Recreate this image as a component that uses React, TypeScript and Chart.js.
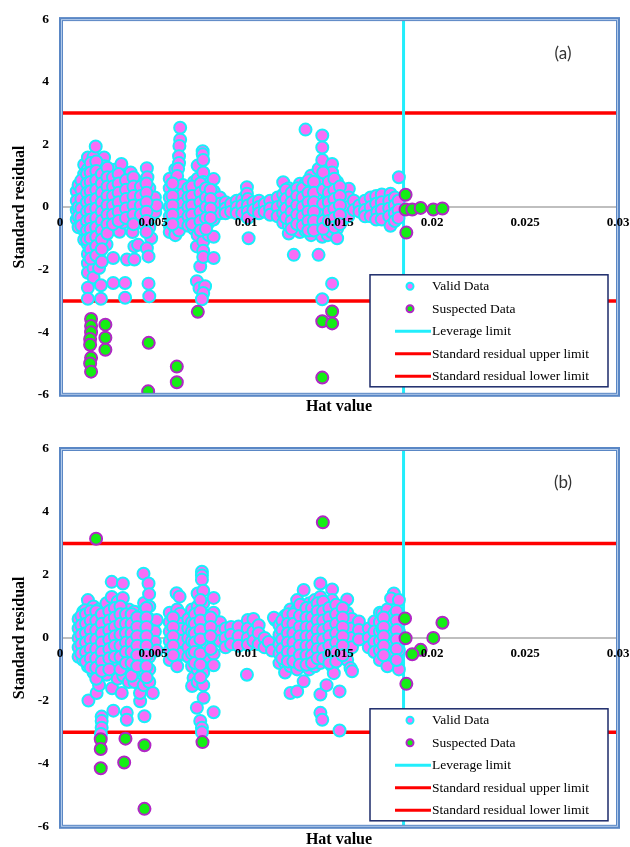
import React, { useEffect, useRef } from 'react';
import { Chart, registerables } from 'chart.js';

Chart.register(...registerables);

type Pt = [number, number];

const xTicks = [0, 0.005, 0.01, 0.015, 0.02, 0.025, 0.03];
const yTicks = [-6, -4, -2, 0, 2, 4, 6];
const upperLimit = 3;
const lowerLimit = -3;
const leverageLimit = 0.01847;
const legendLabels = ['Valid Data', 'Suspected Data', 'Leverage limit', 'Standard residual upper limit', 'Standard residual lower limit'];

// ---------- Panel (a) ----------
// dense inner part of the clusters
const validCoreA: Pt[] = [
  [0.00115,0.85],[0.00115,0.55],[0.00115,0.25],[0.00115,-0.05],[0.00115,-0.35],[0.00115,-0.6],
  [0.00145,1.05],[0.00145,0.75],[0.00145,0.45],[0.00145,0.15],[0.00145,-0.15],[0.00145,-0.45],[0.00145,-0.75],[0.00145,-1.05],
  [0.00165,1.4],[0.00165,1.1],[0.00165,0.8],[0.00165,0.5],[0.00165,0.2],[0.00165,-0.1],[0.00165,-0.4],[0.00165,-0.7],[0.00165,-1.0],[0.00165,-1.35],[0.00165,-1.65],
  [0.00195,1.45],[0.00195,1.15],[0.00195,0.85],[0.00195,0.55],[0.00195,0.25],[0.00195,-0.05],[0.00195,-0.35],[0.00195,-0.65],[0.00195,-0.95],[0.00195,-1.25],[0.00195,-1.55],
  [0.00225,1.05],[0.00225,0.75],[0.00225,0.45],[0.00225,0.15],[0.00225,-0.15],[0.00225,-0.45],[0.00225,-0.75],[0.00225,-1.05],[0.00225,-1.35],[0.00225,-1.75],
  [0.00255,1.25],[0.00255,0.95],[0.00255,0.65],[0.00255,0.35],[0.00255,0.05],[0.00255,-0.25],[0.00255,-0.55],[0.00255,-0.85],
  [0.00285,0.95],[0.00285,0.65],[0.00285,0.35],[0.00285,0.05],[0.00285,-0.25],[0.00285,-0.55],
  [0.00315,1.05],[0.00315,0.75],[0.00315,0.45],[0.00315,0.15],[0.00315,-0.15],[0.00315,-0.45],
  [0.00355,0.85],[0.00355,0.55],[0.00355,0.25],[0.00355,-0.05],[0.00355,-0.35],
  [0.00395,0.95],[0.00395,0.65],[0.00395,0.35],[0.00395,0.05],[0.00395,-0.25],[0.00395,-0.55],
  [0.00435,0.65],[0.00435,0.35],[0.00435,0.05],[0.00435,-0.25],
  [0.00465,0.75],[0.00465,0.45],[0.00465,0.15],[0.00465,-0.15],[0.00465,-0.45],[0.00465,-0.8],
  [0.00605,0.75],[0.00605,0.35],[0.00605,0.05],[0.00605,-0.25],[0.00605,-0.55],
  [0.0071,0.65],[0.0071,0.35],[0.0071,0.05],[0.0071,-0.25],[0.0071,-0.55],
  [0.00755,0.75],[0.00755,0.45],[0.00755,0.15],[0.00755,-0.15],[0.00755,-0.45],[0.00755,-0.75],
  [0.00785,0.6],[0.00785,0.3],[0.00785,0.0],[0.00785,-0.35],[0.00785,-0.7],
  [0.0081,0.55],[0.0081,0.25],[0.0081,-0.05],[0.0081,-0.35],
  [0.01215,0.55],[0.01215,0.25],[0.01215,-0.05],[0.01215,-0.35],
  [0.01245,0.45],[0.01245,0.15],[0.01245,-0.15],[0.01245,-0.45],[0.01245,-0.7],
  [0.01275,0.6],[0.01275,0.35],[0.01275,0.05],[0.01275,-0.25],[0.01275,-0.55],
  [0.01305,0.6],[0.01305,0.3],[0.01305,0.0],[0.01305,-0.3],[0.01305,-0.6],
  [0.01335,0.85],[0.01335,0.45],[0.01335,0.15],[0.01335,-0.15],[0.01335,-0.45],[0.01335,-0.75],
  [0.01365,0.8],[0.01365,0.45],[0.01365,0.15],[0.01365,-0.15],[0.01365,-0.45],[0.01365,-0.75],
  [0.01415,1.1],[0.01415,0.55],[0.01415,0.1],[0.01415,-0.45],[0.01415,-0.7],
  [0.01445,0.8],[0.01445,0.45],[0.01445,0.15],[0.01445,-0.15],[0.01445,-0.45],
  [0.01475,0.9],[0.01475,0.55],[0.01475,0.25],[0.01475,-0.05],[0.01475,-0.35],[0.01475,-0.65],
  [0.01505,0.65],[0.01505,0.35],[0.01505,0.05],[0.01505,-0.25],[0.01505,-0.55],
];

const validA: Pt[] = [
  [0.0009,0.5],[0.0009,0.2],[0.0009,-0.1],[0.0009,-0.4],[0.001,0.7],[0.001,0.0],[0.001,-0.3],[0.001,-0.65],
  [0.0013,1.35],[0.0013,1.05],[0.0013,0.75],[0.0013,0.45],[0.0013,0.15],[0.0013,-0.15],[0.0013,-0.45],[0.0013,-0.75],[0.0013,-1.05],
  [0.0015,1.58],[0.0015,1.2],[0.0015,0.9],[0.0015,0.6],[0.0015,0.3],[0.0015,0.0],[0.0015,-0.3],[0.0015,-0.6],[0.0015,-0.9],[0.0015,-1.2],[0.0015,-1.5],[0.0015,-1.8],[0.0015,-2.1],[0.0015,-2.58],[0.0015,-2.93],
  [0.0018,1.6],[0.0018,1.3],[0.0018,1.0],[0.0018,0.7],[0.0018,0.4],[0.0018,0.1],[0.0018,-0.2],[0.0018,-0.5],[0.0018,-0.8],[0.0018,-1.1],[0.0018,-1.4],[0.0018,-1.7],[0.0018,-1.95],[0.0018,-2.25],
  [0.00192,1.93],
  [0.0021,1.2],[0.0021,0.9],[0.0021,0.6],[0.0021,0.3],[0.0021,0.0],[0.0021,-0.3],[0.0021,-0.6],[0.0021,-0.9],[0.0021,-1.2],[0.0021,-1.5],[0.0021,-1.95],[0.0022,-2.5],[0.0022,-2.93],
  [0.00237,1.58],[0.0024,1.3],[0.0024,0.95],[0.0024,0.65],[0.0024,0.35],[0.0024,0.05],[0.0024,-0.25],[0.0024,-0.55],[0.0025,-1.2],
  [0.0027,1.1],[0.0027,0.8],[0.0027,0.5],[0.0027,0.2],[0.0027,-0.1],[0.0027,-0.4],[0.0027,-0.7],[0.00286,-1.63],[0.00286,-2.43],
  [0.003,1.2],[0.003,0.9],[0.003,0.6],[0.003,0.3],[0.003,0.0],[0.003,-0.3],[0.0032,-0.79],
  [0.0033,1.37],[0.0034,1.0],[0.0034,0.7],[0.0034,0.4],[0.0034,0.1],[0.0034,-0.2],[0.0034,-0.5],[0.0036,-1.68],[0.0035,-2.43],[0.0035,-2.9],
  [0.0038,1.1],[0.0038,0.8],[0.0038,0.5],[0.0038,0.2],[0.0038,-0.1],[0.0038,-0.4],[0.0039,-0.8],[0.004,-1.26],[0.004,-1.68],
  [0.0042,0.8],[0.0042,0.5],[0.0042,0.2],[0.0042,-0.1],[0.0042,-0.45],[0.0042,-1.21],
  [0.00452,0.79],[0.0045,0.45],[0.0045,0.15],[0.0045,-0.2],[0.0045,-0.55],
  [0.00467,1.24],[0.0047,0.95],[0.0048,0.6],[0.0048,0.3],[0.0048,0.0],[0.0048,-0.3],[0.0048,-0.65],[0.0049,-1.0],[0.00467,-1.32],[0.00476,-1.58],[0.00476,-2.45],[0.0048,-2.85],
  [0.0051,0.3],[0.00512,-0.16],[0.0052,0.05],
  [0.0059,0.9],[0.0059,0.6],[0.0059,0.3],[0.0059,0.0],[0.0059,-0.3],[0.0059,-0.6],[0.0059,-0.8],
  [0.0062,1.2],[0.0062,0.8],[0.0062,0.5],[0.0062,0.2],[0.0062,-0.1],[0.0062,-0.4],[0.0062,-0.7],[0.0062,-0.9],
  [0.00646,2.53],[0.00646,2.15],[0.00642,1.95],[0.0064,1.62],[0.0064,1.4],[0.00635,1.22],[0.0063,0.99],[0.0064,0.57],[0.0064,0.3],[0.0064,0.05],[0.0064,-0.25],[0.0064,-0.5],[0.0064,-0.75],
  [0.0066,0.7],[0.0066,0.4],[0.0066,0.1],[0.0066,-0.2],[0.0066,-0.5],
  [0.0069,0.6],[0.0069,0.3],[0.0069,0.0],[0.0069,-0.3],[0.0069,-0.6],
  [0.0072,0.8],[0.0072,0.5],[0.0072,0.2],[0.0072,-0.1],[0.0072,-0.4],[0.0072,-0.7],[0.00736,-1.26],
  [0.0074,1.32],[0.0074,0.9],[0.0074,0.6],[0.0074,0.3],[0.0074,0.0],[0.0074,-0.3],[0.0074,-0.6],[0.0074,-0.9],[0.00754,-1.9],[0.00736,-2.37],[0.0075,-2.6],
  [0.00767,1.78],[0.00767,1.68],[0.0077,1.5],[0.0077,1.1],[0.0077,0.8],[0.0077,0.48],[0.0077,0.2],[0.0077,-0.1],[0.0077,-0.45],[0.0077,-0.8],[0.0077,-1.1],[0.0077,-1.4],[0.0077,-1.6],[0.0078,-2.53],[0.0077,-2.75],[0.00763,-2.95],
  [0.008,0.74],[0.008,0.4],[0.008,0.1],[0.008,-0.2],[0.008,-0.5],[0.008,-0.9],
  [0.00826,0.89],[0.00826,0.5],[0.00826,0.2],[0.00826,-0.1],[0.00826,-0.4],[0.00826,-0.95],[0.00826,-1.63],
  [0.0086,0.3],[0.0086,0.1],[0.0086,-0.2],[0.0089,0.15],[0.0089,-0.05],[0.0089,-0.2],
  [0.0092,0.1],[0.0092,-0.15],[0.0095,0.2],[0.0095,0.0],[0.0095,-0.2],[0.0098,0.25],[0.0098,0.05],[0.0098,-0.2],
  [0.01005,0.63],[0.01005,0.42],[0.0101,0.25],[0.0101,0.05],[0.0101,-0.15],[0.0101,-0.35],[0.01014,-1.0],
  [0.0104,0.15],[0.0104,-0.1],[0.0107,0.2],[0.0107,0.0],[0.0107,-0.2],[0.011,0.1],[0.011,-0.15],[0.0113,0.2],[0.0113,-0.05],[0.0113,-0.25],
  [0.0117,0.3],[0.0117,0.0],[0.0117,-0.3],[0.012,0.79],[0.012,0.4],[0.012,0.1],[0.012,-0.2],[0.012,-0.5],
  [0.0123,0.6],[0.0123,0.3],[0.0123,0.0],[0.0123,-0.3],[0.0123,-0.6],[0.0123,-0.85],
  [0.01257,0.5],[0.01257,0.2],[0.01257,-0.1],[0.01257,-0.4],[0.01257,-0.7],[0.01257,-1.53],
  [0.0129,0.74],[0.0129,0.4],[0.0129,0.1],[0.0129,-0.2],[0.0129,-0.5],[0.0129,-0.8],
  [0.0132,2.47],[0.0132,0.74],[0.0132,0.45],[0.0132,0.15],[0.0132,-0.15],[0.0132,-0.45],[0.0132,-0.75],
  [0.0135,1.0],[0.0135,0.6],[0.0135,0.3],[0.0135,0.0],[0.0135,-0.3],[0.0135,-0.6],[0.0135,-0.9],
  [0.0139,1.21],[0.0139,0.8],[0.0139,0.5],[0.0139,0.2],[0.0139,-0.1],[0.0139,-0.4],[0.0139,-0.7],[0.0139,-1.53],
  [0.0141,2.28],[0.0141,1.9],[0.0141,1.5],[0.0141,0.74],[0.0141,0.3],[0.0141,-0.2],[0.0141,-0.95],[0.0141,-2.95],
  [0.0144,1.0],[0.0144,0.6],[0.0144,0.3],[0.0144,0.0],[0.0144,-0.3],[0.0144,-0.6],[0.0144,-0.9],
  [0.01463,1.37],[0.01463,1.1],[0.0146,0.7],[0.0146,0.4],[0.0146,0.1],[0.0146,-0.2],[0.0146,-0.5],[0.0146,-0.8],[0.01463,-2.45],
  [0.0149,0.8],[0.0149,0.5],[0.0149,0.2],[0.0149,-0.1],[0.0149,-0.4],[0.0149,-0.7],[0.0149,-1.0],
  [0.0152,0.5],[0.0152,0.2],[0.0152,-0.1],[0.0152,-0.4],[0.01553,0.58],[0.01553,0.3],[0.0155,0.0],[0.0155,-0.3],[0.0158,0.2],[0.0158,-0.1],
  [0.0161,0.05],[0.0161,-0.15],[0.0164,0.2],[0.0164,-0.1],[0.0164,-0.3],[0.0167,0.3],[0.0167,0.0],[0.0167,-0.3],
  [0.017,0.35],[0.017,0.1],[0.01706,-0.16],[0.017,-0.4],[0.0173,0.4],[0.0173,0.15],[0.0173,-0.1],[0.0173,-0.4],
  [0.01777,0.42],[0.0177,0.2],[0.0177,-0.05],[0.0177,-0.3],[0.01777,-0.6],[0.018,0.3],[0.018,0.05],[0.018,-0.2],[0.018,-0.45],
  [0.01822,0.95],[0.0182,0.2],[0.0182,-0.1],[0.0182,-0.35],
];

const suspectedA: Pt[] = [
  [0.00167,-3.58],[0.00167,-3.8],[0.00167,-4.0],[0.00162,-4.22],[0.00162,-4.4],[0.00167,-4.82],[0.00162,-5.0],[0.00167,-5.26],
  [0.00244,-3.76],[0.00244,-4.18],[0.00244,-4.56],
  [0.00477,-4.34],[0.00474,-5.89],[0.00628,-5.1],[0.00628,-5.6],[0.00741,-3.35],
  [0.0141,-5.45],[0.0141,-3.65],[0.01463,-3.34],[0.01463,-3.72],
  [0.01858,0.39],[0.01858,-0.08],[0.01894,-0.08],[0.01939,-0.03],[0.02007,-0.08],[0.02056,-0.05],[0.01862,-0.82],
];

// ---------- Panel (b) ----------
const validCoreB: Pt[] = [
  [0.00115,0.7],[0.00115,0.4],[0.00115,0.1],[0.00115,-0.2],[0.00115,-0.5],
  [0.0014,0.75],[0.0014,0.45],[0.0014,0.15],[0.0014,-0.15],[0.0014,-0.45],[0.0014,-0.75],
  [0.00165,0.85],[0.00165,0.55],[0.00165,0.25],[0.00165,-0.05],[0.00165,-0.35],[0.00165,-0.65],[0.00165,-0.95],
  [0.00195,0.85],[0.00195,0.55],[0.00195,0.25],[0.00195,-0.05],[0.00195,-0.35],[0.00195,-0.65],[0.00195,-0.95],[0.00195,-1.3],
  [0.00225,0.75],[0.00225,0.45],[0.00225,0.15],[0.00225,-0.15],[0.00225,-0.45],[0.00225,-0.75],[0.00225,-1.05],
  [0.00265,0.85],[0.00265,0.55],[0.00265,0.25],[0.00265,-0.05],[0.00265,-0.35],[0.00265,-0.65],[0.00265,-1.0],
  [0.00295,0.95],[0.00295,0.65],[0.00295,0.35],[0.00295,0.05],[0.00295,-0.25],[0.00295,-0.6],
  [0.00325,1.0],[0.00325,0.75],[0.00325,0.45],[0.00325,0.1],[0.00325,-0.25],[0.00325,-0.6],[0.00325,-1.0],
  [0.00355,0.75],[0.00355,0.45],[0.00355,0.15],[0.00355,-0.15],[0.00355,-0.45],[0.00355,-0.8],
  [0.00385,0.75],[0.00385,0.45],[0.00385,0.15],[0.00385,-0.15],[0.00385,-0.45],[0.00385,-0.8],[0.00385,-1.2],
  [0.00415,0.65],[0.00415,0.35],[0.00415,0.05],[0.00415,-0.25],[0.00415,-0.55],[0.00415,-0.9],
  [0.00465,0.95],[0.00465,0.65],[0.00465,0.35],[0.00465,0.05],[0.00465,-0.25],[0.00465,-0.55],[0.00465,-0.9],[0.00465,-1.25],
  [0.00608,0.65],[0.00608,0.35],[0.00608,0.05],[0.00608,-0.25],[0.00608,-0.55],
  [0.00725,0.75],[0.00725,0.45],[0.00725,0.15],[0.00725,-0.15],[0.00725,-0.45],[0.00725,-0.8],
  [0.00755,1.2],[0.00755,0.85],[0.00755,0.55],[0.00755,0.25],[0.00755,-0.05],[0.00755,-0.5],[0.00755,-0.85],[0.00755,-1.25],
  [0.0081,0.65],[0.0081,0.35],[0.0081,0.05],[0.0081,-0.35],
  [0.01195,0.55],[0.01195,0.25],[0.01195,-0.05],[0.01195,-0.35],[0.01195,-0.65],
  [0.01225,0.75],[0.01225,0.45],[0.01225,0.15],[0.01225,-0.15],[0.01225,-0.45],[0.01225,-0.75],
  [0.01255,0.75],[0.01255,0.45],[0.01255,0.15],[0.01255,-0.15],[0.01255,-0.45],[0.01255,-0.75],
  [0.0129,1.05],[0.0129,0.7],[0.0129,0.35],[0.0129,0.05],[0.0129,-0.25],[0.0129,-0.55],[0.0129,-0.85],
  [0.01325,0.95],[0.01325,0.65],[0.01325,0.35],[0.01325,0.05],[0.01325,-0.25],[0.01325,-0.55],[0.01325,-0.85],
  [0.01355,0.95],[0.01355,0.65],[0.01355,0.35],[0.01355,0.05],[0.01355,-0.25],[0.01355,-0.55],[0.01355,-0.8],
  [0.01385,1.1],[0.01385,0.85],[0.01385,0.55],[0.01385,0.25],[0.01385,-0.05],[0.01385,-0.35],[0.01385,-0.65],
  [0.01415,1.15],[0.01415,0.85],[0.01415,0.55],[0.01415,0.25],[0.01415,-0.05],[0.01415,-0.35],[0.01415,-0.65],
  [0.01448,0.95],[0.01448,0.65],[0.01448,0.35],[0.01448,0.05],[0.01448,-0.25],[0.01448,-0.55],[0.01448,-0.8],
  [0.01485,1.05],[0.01485,0.75],[0.01485,0.45],[0.01485,0.15],[0.01485,-0.15],[0.01485,-0.45],[0.01485,-0.75],
  [0.0152,0.95],[0.0152,0.65],[0.0152,0.35],[0.0152,0.05],[0.0152,-0.25],[0.0152,-0.55],
  [0.0174,0.65],[0.0174,0.35],[0.0174,0.05],[0.0174,-0.25],[0.0174,-0.55],
  [0.0181,0.85],[0.0181,0.55],[0.0181,0.25],[0.0181,-0.05],[0.0181,-0.35],[0.0181,-0.7],
];

const validB: Pt[] = [
  [0.001,0.6],[0.001,0.3],[0.001,0.0],[0.001,-0.3],[0.001,-0.6],
  [0.00125,0.83],[0.00125,0.5],[0.00125,0.2],[0.00125,-0.1],[0.00125,-0.4],[0.00125,-0.7],
  [0.0015,1.2],[0.00135,0.88],[0.0015,0.6],[0.0015,0.31],[0.0015,0.0],[0.0015,-0.3],[0.0015,-0.6],[0.0015,-0.9],[0.00153,-1.99],
  [0.0018,1.0],[0.0018,0.7],[0.0018,0.4],[0.0018,0.1],[0.0018,-0.2],[0.0018,-0.5],[0.0018,-0.8],[0.0018,-1.1],[0.00197,-1.75],
  [0.0021,0.9],[0.0021,0.6],[0.0021,0.3],[0.0021,0.0],[0.0021,-0.3],[0.0021,-0.6],[0.0021,-0.9],[0.0021,-1.2],[0.0021,-1.5],
  [0.00224,-2.5],[0.00224,-2.64],[0.00224,-2.85],[0.0022,-3.05],
  [0.0025,1.1],[0.0025,0.7],[0.0025,0.4],[0.0025,0.1],[0.0025,-0.2],[0.0025,-0.5],[0.0025,-0.8],[0.00251,-1.17],
  [0.00278,1.78],[0.00278,1.3],[0.0028,0.9],[0.0028,0.5],[0.0028,0.2],[0.0028,-0.1],[0.00278,-0.48],[0.0028,-0.9],[0.0028,-1.6],[0.00287,-2.31],
  [0.0031,1.15],[0.0031,0.8],[0.0031,0.5],[0.0031,0.2],[0.0031,-0.1],[0.0031,-0.4],[0.00292,-0.91],[0.0031,-1.3],
  [0.00338,1.73],[0.00338,1.27],[0.0034,0.9],[0.0034,0.6],[0.00359,0.25],[0.0034,-0.05],[0.0034,-0.4],[0.0034,-0.8],[0.0034,-1.2],[0.00332,-1.75],
  [0.00359,-2.38],[0.00359,-2.6],
  [0.0037,0.9],[0.0037,0.6],[0.0037,0.3],[0.0037,0.0],[0.0037,-0.3],[0.0037,-0.6],[0.0037,-1.0],[0.0037,-1.4],
  [0.004,0.83],[0.004,0.5],[0.004,0.2],[0.004,-0.1],[0.004,-0.4],[0.004,-0.7],[0.004,-1.1],[0.004,-1.4],
  [0.00431,-2.01],[0.0043,-1.75],
  [0.00449,2.04],[0.00452,1.11],[0.0045,0.8],[0.0045,0.5],[0.0045,0.2],[0.0045,-0.1],[0.0045,-0.4],[0.0045,-0.8],[0.00457,-1.1],[0.0045,-1.5],[0.00454,-2.49],
  [0.00476,1.73],[0.00479,1.39],[0.0048,1.0],[0.0048,0.6],[0.0048,0.3],[0.0048,0.0],[0.0048,-0.3],[0.0048,-0.6],[0.0048,-1.0],[0.0048,-1.4],[0.00499,-1.75],
  [0.0051,0.5],[0.0052,0.57],[0.0051,0.2],[0.0051,-0.12],[0.0052,-0.4],
  [0.0059,0.8],[0.0059,0.5],[0.0059,0.2],[0.0059,-0.1],[0.0059,-0.4],[0.0059,-0.7],
  [0.00627,1.42],[0.00643,1.31],[0.0063,0.9],[0.0063,0.6],[0.0063,0.3],[0.0063,0.0],[0.0063,-0.3],[0.0063,-0.6],[0.0063,-0.9],
  [0.00646,0.77],[0.0065,0.45],[0.0065,0.28],[0.0065,-0.1],[0.0065,-0.5],
  [0.0069,0.6],[0.0069,0.3],[0.0069,0.0],[0.0069,-0.3],[0.0069,-0.6],
  [0.0071,0.9],[0.0071,0.5],[0.0071,0.2],[0.0071,-0.1],[0.0071,-0.5],[0.0071,-0.9],[0.00718,-1.27],[0.0071,-1.53],
  [0.0074,1.41],[0.0074,1.0],[0.0074,0.7],[0.0074,0.4],[0.0074,0.1],[0.0074,-0.2],[0.0074,-0.6],[0.0074,-1.0],[0.0074,-1.4],[0.00736,-2.22],
  [0.00763,2.1],[0.00763,1.98],[0.00763,1.85],[0.0077,1.5],[0.0077,1.1],[0.0077,0.7],[0.0077,0.4],[0.0077,0.0],[0.0077,-0.35],[0.0077,-0.7],[0.0077,-1.1],[0.0077,-1.5],[0.00772,-1.9],[0.00754,-2.64],[0.00763,-2.85],[0.00763,-3.0],
  [0.0079,0.7],[0.0079,0.4],[0.0079,0.1],[0.0079,-0.2],[0.0079,-0.6],
  [0.00826,1.27],[0.00826,0.8],[0.00826,0.5],[0.00826,0.2],[0.00826,-0.1],[0.00826,-0.5],[0.00826,-0.87],[0.00826,-2.36],
  [0.0086,0.5],[0.0086,0.2],[0.0086,-0.1],[0.0089,0.3],[0.0089,0.0],[0.0089,-0.3],
  [0.0092,0.35],[0.0092,0.1],[0.0092,-0.2],[0.0096,0.36],[0.0096,0.05],[0.0096,-0.25],
  [0.0101,0.57],[0.0101,0.3],[0.0101,0.0],[0.0101,-0.22],[0.01005,-1.17],
  [0.0104,0.6],[0.0104,0.2],[0.0104,-0.1],[0.01068,0.4],[0.01068,0.15],[0.01068,-0.2],[0.011,0.0],[0.011,-0.3],
  [0.01158,0.57],[0.0115,0.64],[0.01122,-0.13],[0.0114,-0.4],
  [0.0118,0.4],[0.0118,0.1],[0.0118,-0.2],[0.0118,-0.5],[0.0118,-0.8],
  [0.0121,0.7],[0.0121,0.4],[0.0121,0.1],[0.0121,-0.2],[0.0121,-0.5],[0.0121,-0.8],[0.0121,-1.1],
  [0.01239,0.9],[0.01239,0.6],[0.01239,0.3],[0.01239,0.0],[0.01239,-0.3],[0.01239,-0.6],[0.01239,-0.9],[0.01239,-1.75],
  [0.01275,1.2],[0.01275,0.9],[0.01275,0.5],[0.01275,0.2],[0.01275,-0.1],[0.01275,-0.4],[0.01275,-0.7],[0.01275,-1.0],[0.01275,-1.7],
  [0.0131,1.52],[0.0131,1.0],[0.0131,0.7],[0.0131,0.4],[0.0131,0.1],[0.0131,-0.2],[0.0131,-0.5],[0.0131,-0.8],[0.0131,-1.38],
  [0.0134,1.1],[0.0134,0.8],[0.0134,0.5],[0.0134,0.2],[0.0134,-0.1],[0.0134,-0.4],[0.0134,-0.7],[0.0134,-1.0],
  [0.0137,1.2],[0.0137,0.9],[0.0137,0.6],[0.0137,0.3],[0.0137,0.0],[0.0137,-0.3],[0.0137,-0.6],[0.0137,-0.9],
  [0.014,1.73],[0.014,1.3],[0.014,1.0],[0.014,0.7],[0.014,0.4],[0.014,0.1],[0.014,-0.2],[0.014,-0.5],[0.014,-0.8],[0.014,-1.8],[0.014,-2.38],[0.0141,-2.6],
  [0.01433,1.1],[0.01433,0.8],[0.01433,0.5],[0.01433,0.2],[0.01433,-0.1],[0.01433,-0.4],[0.01433,-0.7],[0.01433,-1.5],
  [0.01463,1.54],[0.01463,1.2],[0.01463,0.9],[0.01463,0.6],[0.01463,0.3],[0.01463,0.0],[0.01463,-0.3],[0.01463,-0.6],[0.01463,-0.9],[0.01472,-1.12],
  [0.01503,0.9],[0.01503,0.6],[0.01503,0.3],[0.01503,0.0],[0.01503,-0.3],[0.01503,-0.6],[0.01503,-1.7],[0.01503,-2.94],
  [0.01544,1.22],[0.01544,0.8],[0.01544,0.5],[0.01544,0.2],[0.01544,-0.1],[0.01544,-0.4],[0.01544,-0.7],
  [0.0157,0.6],[0.0157,0.3],[0.0157,0.0],[0.0157,-0.3],[0.01562,-0.96],[0.0157,-1.06],
  [0.01607,0.52],[0.01607,0.25],[0.01607,-0.05],
  [0.0166,0.3],[0.0166,0.0],[0.0166,-0.3],
  [0.0169,0.52],[0.0169,0.2],[0.0169,-0.12],[0.0169,-0.45],
  [0.0172,0.8],[0.0172,0.5],[0.0172,0.2],[0.0172,-0.1],[0.0172,-0.4],[0.0172,-0.7],
  [0.01733,0.78],[0.01733,0.3],
  [0.0176,0.9],[0.0176,0.6],[0.0176,0.3],[0.0176,0.0],[0.0176,-0.3],[0.0176,-0.6],[0.0176,-0.9],
  [0.01795,1.41],[0.0178,1.25],[0.0179,0.7],[0.0179,0.4],[0.0179,0.1],[0.0179,-0.2],[0.0179,-0.5],
  [0.01822,1.2],[0.01822,0.5],[0.01822,0.2],[0.01822,-0.1],[0.01822,-0.4],[0.01822,-1.0],
];

const suspectedB: Pt[] = [
  [0.00194,3.15],[0.00219,-3.22],[0.00219,-3.53],[0.00219,-4.14],[0.00352,-3.2],[0.00345,-3.96],
  [0.00454,-3.41],[0.00454,-5.43],[0.00766,-3.31],[0.01413,3.67],
  [0.01855,0.62],[0.01858,-0.01],[0.01939,-0.38],[0.01894,-0.52],[0.02007,0.0],[0.02056,0.48],[0.01862,-1.46],
];

const PINK = '#f76ef7';
const CYAN = '#19eefa';
const GREEN = '#14ee14';
const PURPLE = '#b126c6';
const RED = '#ff0000';
const LEV = '#22eefc';
const SERIF = '"Liberation Serif", "Times New Roman", serif';

const decorPlugin = {
  id: 'decor',
  afterDatasetsDraw(chart: any, _args: any, opts: any) {
    const { ctx, chartArea: a } = chart;
    ctx.save();
    // legend box
    const w = 238, h = 112;
    const lx = a.right - 10 - w;
    const ly = a.bottom - opts.legendBottom - h;
    ctx.fillStyle = '#ffffff';
    ctx.fillRect(lx, ly, w, h);
    ctx.strokeStyle = '#1c2a6a';
    ctx.lineWidth = 1.5;
    ctx.strokeRect(lx, ly, w, h);
    ctx.font = '13.5px ' + SERIF;
    ctx.textAlign = 'left';
    ctx.textBaseline = 'middle';
    legendLabels.forEach((lab, i) => {
      const cy = ly + 11.5 + i * 22.5;
      if (i < 2) {
        ctx.beginPath();
        ctx.arc(lx + 40, cy, 3.5, 0, Math.PI * 2);
        ctx.fillStyle = i === 0 ? PINK : GREEN;
        ctx.fill();
        ctx.lineWidth = 2;
        ctx.strokeStyle = i === 0 ? CYAN : PURPLE;
        ctx.stroke();
      } else {
        ctx.beginPath();
        ctx.moveTo(lx + 25, cy);
        ctx.lineTo(lx + 61, cy);
        ctx.lineWidth = 3;
        ctx.strokeStyle = i === 2 ? LEV : RED;
        ctx.stroke();
      }
      ctx.fillStyle = '#000';
      ctx.fillText(lab, lx + 62, cy + 0.5);
    });
    // panel tag
    ctx.font = '17px Lato, "Open Sans", sans-serif';
    ctx.fillStyle = '#333';
    ctx.textAlign = 'center';
    ctx.fillText(opts.tag, a.right - 55, a.top + 34);
    // frame
    ctx.strokeStyle = '#5a87c5';
    ctx.lineWidth = 4;
    ctx.strokeRect(a.left + 1, a.top, a.width - 1, a.height);
    ctx.strokeStyle = '#b3cbea';
    ctx.lineWidth = 1;
    ctx.strokeRect(a.left + 1.5, a.top + 0.5, a.width - 2, a.height - 1);
    ctx.restore();
  },
};

type PanelProps = {
  core: Pt[];
  valid: Pt[];
  suspected: Pt[];
  tag: string;
  top: number;
  height: number;
  padTop: number;
  titlePad: { top: number; bottom: number };
  legendBottom: number;
};

function ResidualPanel({ core, valid, suspected, tag, top, height, padTop, titlePad, legendBottom }: PanelProps) {
  const ref = useRef<HTMLCanvasElement>(null);
  useEffect(() => {
    const chart = new Chart(ref.current as HTMLCanvasElement, {
      type: 'scatter',
      data: {
        datasets: [
          {
            label: legendLabels[1],
            data: suspected.map(([x, y]) => ({ x, y })),
            pointRadius: 6,
            pointBorderWidth: 2,
            pointBackgroundColor: GREEN,
            pointBorderColor: PURPLE,
          },
          {
            label: legendLabels[0],
            data: [...valid, ...core].map(([x, y]) => ({ x, y })),
            pointRadius: 6,
            pointBorderWidth: 2,
            pointBackgroundColor: PINK,
            pointBorderColor: CYAN,
          },
          {
            label: legendLabels[2],
            data: [{ x: leverageLimit, y: yTicks[0] }, { x: leverageLimit, y: yTicks[yTicks.length - 1] }],
            showLine: true,
            borderColor: LEV,
            borderWidth: 3,
            pointRadius: 0,
          },
          {
            label: legendLabels[3],
            data: [{ x: xTicks[0], y: upperLimit }, { x: xTicks[xTicks.length - 1], y: upperLimit }],
            showLine: true,
            borderColor: RED,
            borderWidth: 3.5,
            pointRadius: 0,
          },
          {
            label: legendLabels[4],
            data: [{ x: xTicks[0], y: lowerLimit }, { x: xTicks[xTicks.length - 1], y: lowerLimit }],
            showLine: true,
            borderColor: RED,
            borderWidth: 3.5,
            pointRadius: 0,
          },
        ] as any,
      },
      options: {
        responsive: false,
        animation: false,
        events: [],
        layout: { padding: { top: padTop, right: 12, left: 0, bottom: 0 } },
        plugins: {
          legend: { display: false },
          tooltip: { enabled: false },
          title: {
            display: true,
            text: 'Hat value',
            position: 'bottom',
            fullSize: false,
            color: '#000',
            font: { family: SERIF, size: 16, weight: 'bold' },
            padding: titlePad,
          },
          decor: { tag, legendBottom },
        } as any,
        scales: {
          x: {
            type: 'linear',
            min: xTicks[0],
            max: xTicks[xTicks.length - 1],
            position: { y: 0 } as any,
            grid: { color: 'rgba(0,0,0,0)', drawTicks: false },
            border: { display: true, color: '#bfbfbf', width: 2 },
            ticks: {
              z: 1,
              padding: 8,
              color: '#000',
              maxRotation: 0,
              autoSkip: false,
              font: { family: SERIF, size: 13, weight: 'bold' },
              callback: (v: any) => String(v),
            },
            afterBuildTicks: (s: any) => { s.ticks = xTicks.map((v) => ({ value: v })); },
            afterFit: (s: any) => { s.height = 0; s.paddingLeft = 0; s.paddingRight = 0; },
          } as any,
          y: {
            type: 'linear',
            min: yTicks[0],
            max: yTicks[yTicks.length - 1],
            grid: { color: 'rgba(0,0,0,0)', drawTicks: false },
            border: { display: false },
            ticks: {
              padding: 11,
              color: '#000',
              font: { family: SERIF, size: 13.5, weight: 'bold' },
              callback: (v: any) => String(v),
            },
            afterBuildTicks: (s: any) => { s.ticks = yTicks.map((v) => ({ value: v })); },
            title: {
              display: true,
              text: 'Standard residual',
              color: '#000',
              font: { family: SERIF, size: 16, weight: 'bold' },
              padding: { top: 10, bottom: 0 },
            },
            afterFit: (s: any) => { s.width = 60; },
          } as any,
        },
      },
      plugins: [decorPlugin as any],
    });
    return () => chart.destroy();
  }, []);
  return (
    <canvas
      ref={ref}
      width={630}
      height={height}
      style={{ position: 'absolute', left: 0, top, width: 630, height, display: 'block' }}
    />
  );
}

export default function App() {
  return (
    <div style={{ position: 'absolute', left: 0, top: 0, width: 630, height: 847, overflow: 'hidden', background: '#fff' }}>
      <ResidualPanel core={validCoreA} valid={validA} suspected={suspectedA} tag="(a)" top={0} height={420} padTop={15} titlePad={{ top: 2, bottom: 4 }} legendBottom={8} />
      <ResidualPanel core={validCoreB} valid={validB} suspected={suspectedB} tag="(b)" top={420} height={432} padTop={29} titlePad={{ top: 3, bottom: 3 }} legendBottom={6} />
    </div>
  );
}
